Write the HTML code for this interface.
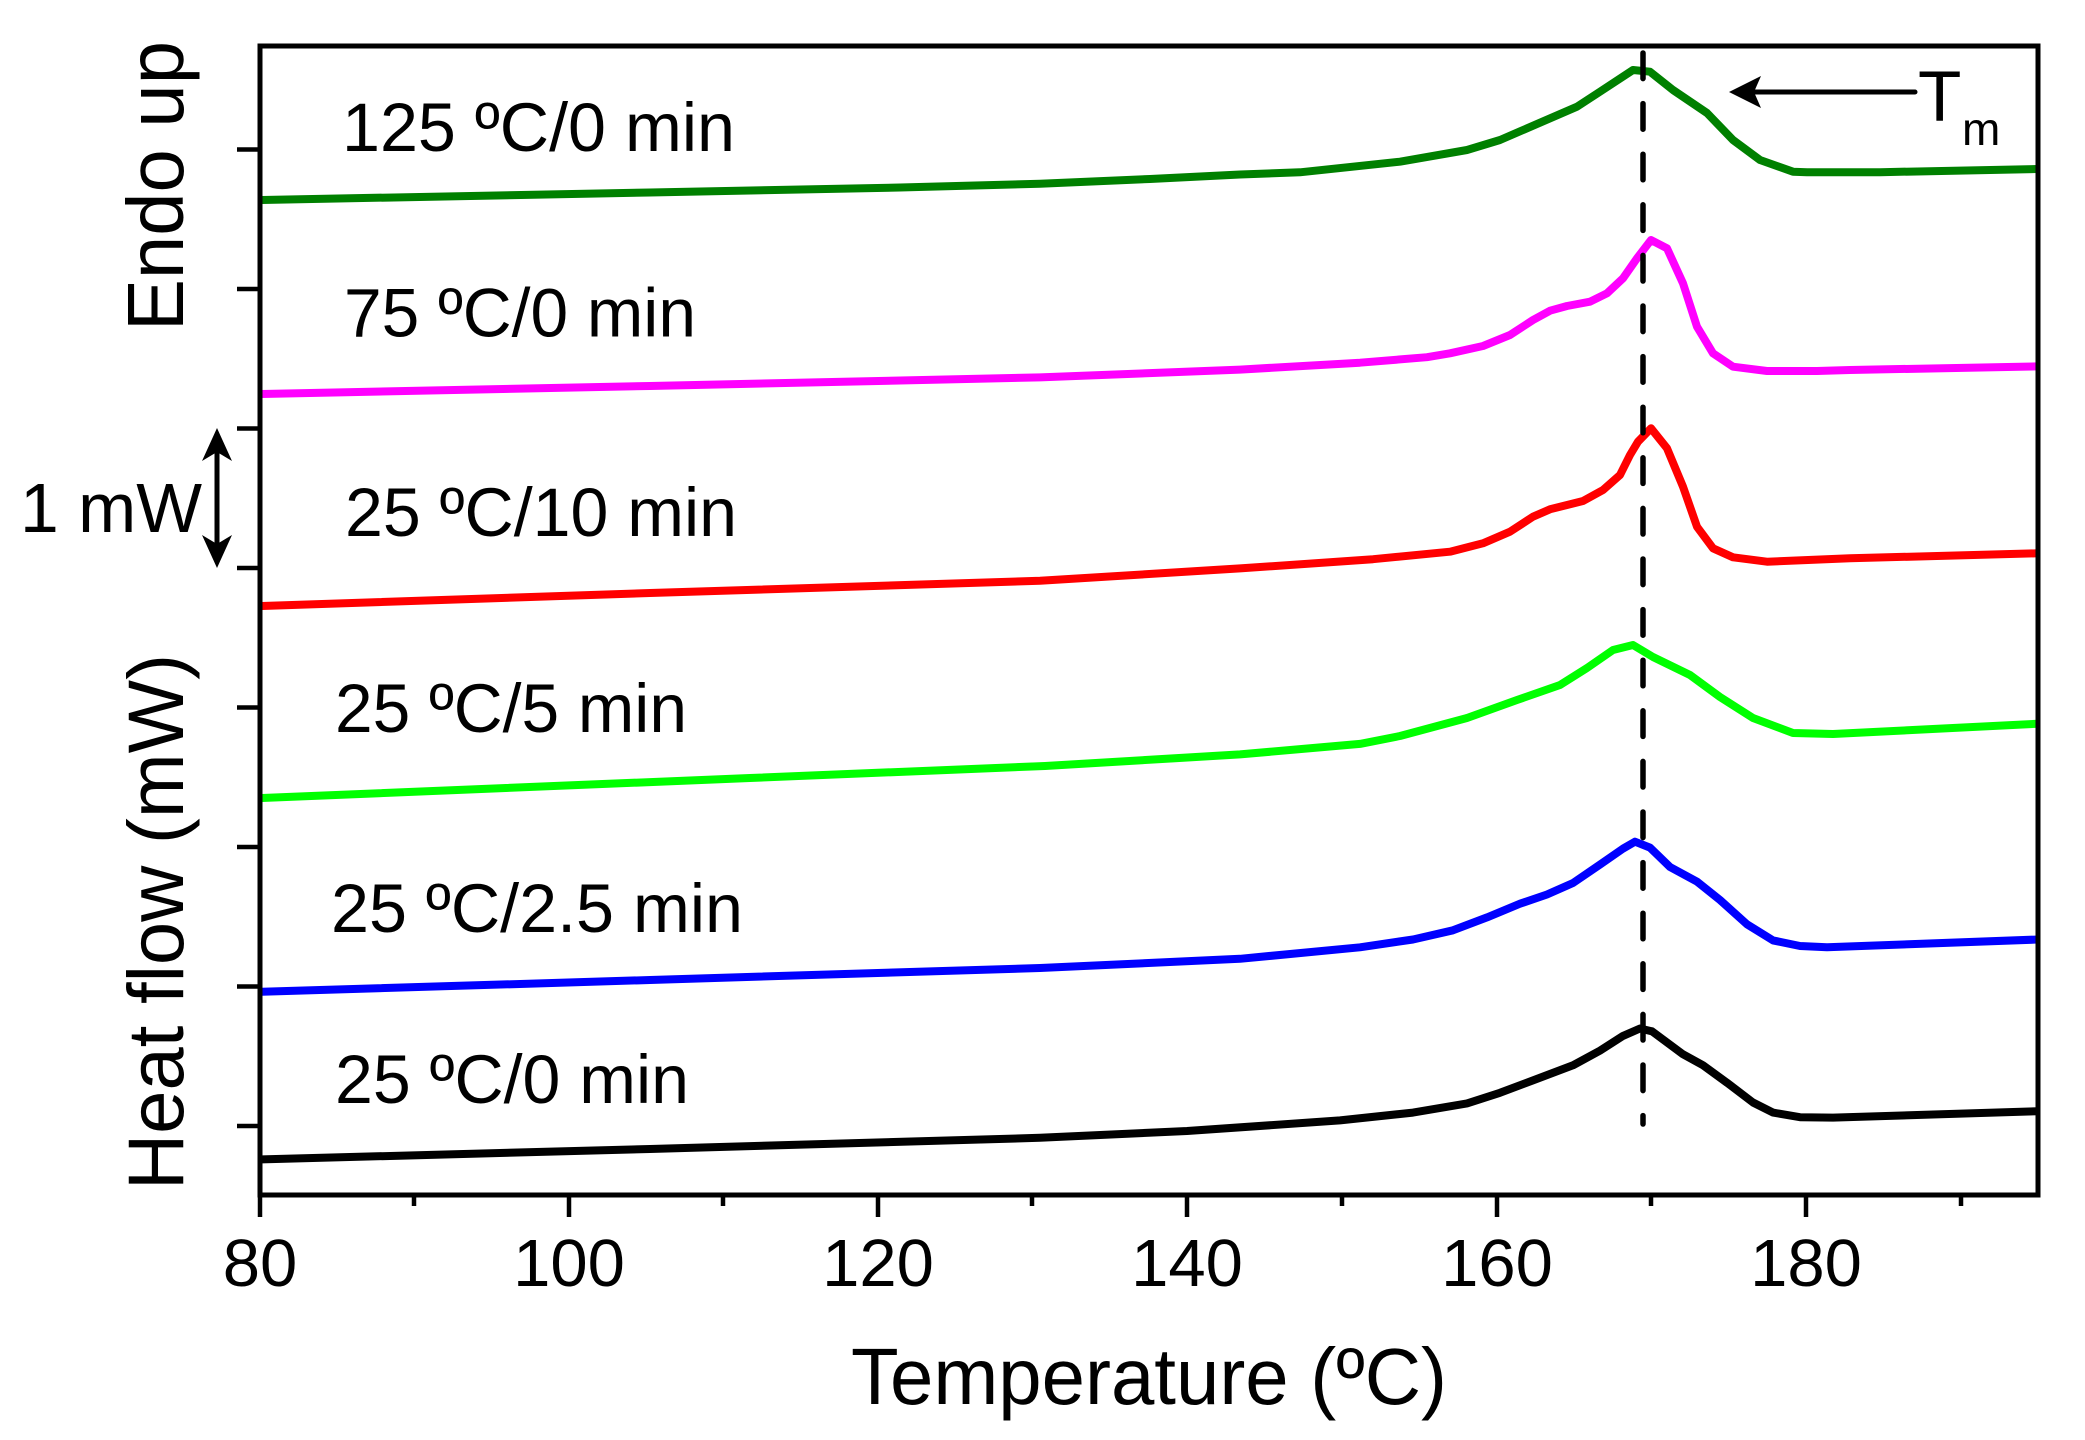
<!DOCTYPE html>
<html>
<head>
<meta charset="utf-8">
<style>
html,body{margin:0;padding:0;background:#fff;}
svg{display:block;}
text{font-family:"Liberation Sans",Arial,sans-serif;fill:#000;}
</style>
</head>
<body>
<svg width="2085" height="1440" viewBox="0 0 2085 1440" xmlns="http://www.w3.org/2000/svg">
<rect x="0" y="0" width="2085" height="1440" fill="#fff"/>

<!-- curves -->
<g fill="none" stroke-width="8" stroke-linejoin="round" stroke-linecap="butt">
<polyline stroke="#008000" points="262,200 650,192.5 900,187.5 1040,183.7 1150,179 1240,174.5 1300,172.3 1400,161.7 1467,150 1500,140 1540,122.7 1577,106.7 1600,91.7 1633,70 1650,71.7 1673,90 1707,113 1733,140 1760,160 1793,171.7 1807,172.2 1880,172.2 2038,169"/>
<polyline stroke="#ff00ff" points="262,394 650,386 1040,377.4 1240,369.6 1360,362.7 1427,357.2 1450,353.3 1483,346 1510,335 1533,320 1550,310.7 1567,306 1590,301.7 1607,293.3 1623,278.3 1637,258.3 1651,240 1667,248.3 1683,283.3 1697,326.7 1713,353.3 1733,366.7 1767,371 1817,371 1850,370 2038,366.4"/>
<polyline stroke="#ff0000" points="262,606 650,593 1040,580.8 1240,568.4 1373,559.2 1450,551.7 1483,543.3 1510,531.7 1533,516.7 1550,509.3 1583,501 1603,490 1620,475 1630,455 1638,441.7 1651,428.3 1667,448.3 1683,486.7 1697,526.7 1713,548.3 1733,557.3 1767,561.7 1850,558.3 2038,553.3"/>
<polyline stroke="#00ff00" points="262,798 750,778 1045,766 1240,754.4 1360,743.9 1400,736 1467,718 1517,700 1560,685 1587,668 1613,650 1633,645 1653,657 1690,675 1720,697 1753,718 1793,733 1833,734 2038,723.7"/>
<polyline stroke="#0000ff" points="262,991.8 650,980 1040,968 1240,958.8 1360,947.3 1413,939.5 1453,930.3 1487,917.4 1520,903.7 1547,894.5 1573,883 1600,864.6 1623,848.6 1635,841.7 1650,847.6 1670,867 1697,881.6 1720,900 1747,924.3 1773,940.4 1800,946 1827,947.3 2038,939.5"/>
<polyline stroke="#000000" points="262,1159.4 650,1149 1040,1137.8 1187,1131 1340,1120.4 1413,1112.6 1467,1103.4 1500,1092.8 1533,1080.4 1573,1065.3 1600,1050.6 1623,1035.9 1640,1028.5 1652,1031.3 1683,1054.3 1703,1065.3 1727,1082.7 1753,1102.5 1773,1112.6 1800,1117.2 1833,1117.6 2038,1111.2"/>
</g>

<!-- dashed Tm line -->
<line x1="1643" y1="53" x2="1643" y2="1124" stroke="#000" stroke-width="5.5" stroke-dasharray="25.6 25" stroke-linecap="round"/>

<!-- frame -->
<rect x="260" y="46" width="1778" height="1149" fill="none" stroke="#000" stroke-width="5"/>

<!-- x ticks -->
<g stroke="#000" stroke-width="4.5">
<line x1="260" y1="1195" x2="260" y2="1217"/>
<line x1="569" y1="1195" x2="569" y2="1217"/>
<line x1="878" y1="1195" x2="878" y2="1217"/>
<line x1="1187" y1="1195" x2="1187" y2="1217"/>
<line x1="1497" y1="1195" x2="1497" y2="1217"/>
<line x1="1806" y1="1195" x2="1806" y2="1217"/>
<line x1="414" y1="1195" x2="414" y2="1206"/>
<line x1="723" y1="1195" x2="723" y2="1206"/>
<line x1="1032" y1="1195" x2="1032" y2="1206"/>
<line x1="1342" y1="1195" x2="1342" y2="1206"/>
<line x1="1651" y1="1195" x2="1651" y2="1206"/>
<line x1="1961" y1="1195" x2="1961" y2="1206"/>
</g>
<!-- y ticks -->
<g stroke="#000" stroke-width="4.5">
<line x1="237" y1="149.5" x2="260" y2="149.5"/>
<line x1="237" y1="289" x2="260" y2="289"/>
<line x1="237" y1="428.5" x2="260" y2="428.5"/>
<line x1="237" y1="568" x2="260" y2="568"/>
<line x1="237" y1="707.5" x2="260" y2="707.5"/>
<line x1="237" y1="847" x2="260" y2="847"/>
<line x1="237" y1="986.5" x2="260" y2="986.5"/>
<line x1="237" y1="1126" x2="260" y2="1126"/>
</g>

<!-- x tick labels -->
<g font-size="67" text-anchor="middle">
<text x="260" y="1286">80</text>
<text x="569" y="1286">100</text>
<text x="878" y="1286">120</text>
<text x="1187" y="1286">140</text>
<text x="1497" y="1286">160</text>
<text x="1806" y="1286">180</text>
</g>

<!-- axis titles -->
<text x="851" y="1404" font-size="80" textLength="596" lengthAdjust="spacingAndGlyphs">Temperature (ºC)</text>
<text transform="translate(183,1190) rotate(-90)" font-size="79" textLength="536" lengthAdjust="spacingAndGlyphs">Heat flow (mW)</text>
<text transform="translate(183,331) rotate(-90)" font-size="80" textLength="290" lengthAdjust="spacingAndGlyphs">Endo up</text>

<!-- series annotations -->
<g font-size="69">
<text x="342" y="151" textLength="393" lengthAdjust="spacingAndGlyphs">125 ºC/0 min</text>
<text x="344" y="336.5" textLength="352" lengthAdjust="spacingAndGlyphs">75 ºC/0 min</text>
<text x="345" y="536" textLength="392" lengthAdjust="spacingAndGlyphs">25 ºC/10 min</text>
<text x="335" y="732" textLength="352" lengthAdjust="spacingAndGlyphs">25 ºC/5 min</text>
<text x="331" y="932" textLength="412" lengthAdjust="spacingAndGlyphs">25 ºC/2.5 min</text>
<text x="335" y="1103" textLength="354" lengthAdjust="spacingAndGlyphs">25 ºC/0 min</text>
</g>

<!-- 1 mW scale bar -->
<text x="20" y="532" font-size="70" textLength="182" lengthAdjust="spacingAndGlyphs">1 mW</text>
<line x1="217" y1="448" x2="217" y2="548" stroke="#000" stroke-width="5"/>
<polygon points="217,428 202,461 217,452 232,461" fill="#000"/>
<polygon points="217,568 202,535 217,544 232,535" fill="#000"/>

<!-- Tm arrow -->
<line x1="1752" y1="92" x2="1915" y2="92" stroke="#000" stroke-width="5" stroke-linecap="round"/>
<polygon points="1729,92 1761,76 1754,92 1761,108" fill="#000"/>
<text x="1918" y="121" font-size="71">T</text>
<text x="1962" y="145" font-size="46">m</text>
</svg>
</body>
</html>
